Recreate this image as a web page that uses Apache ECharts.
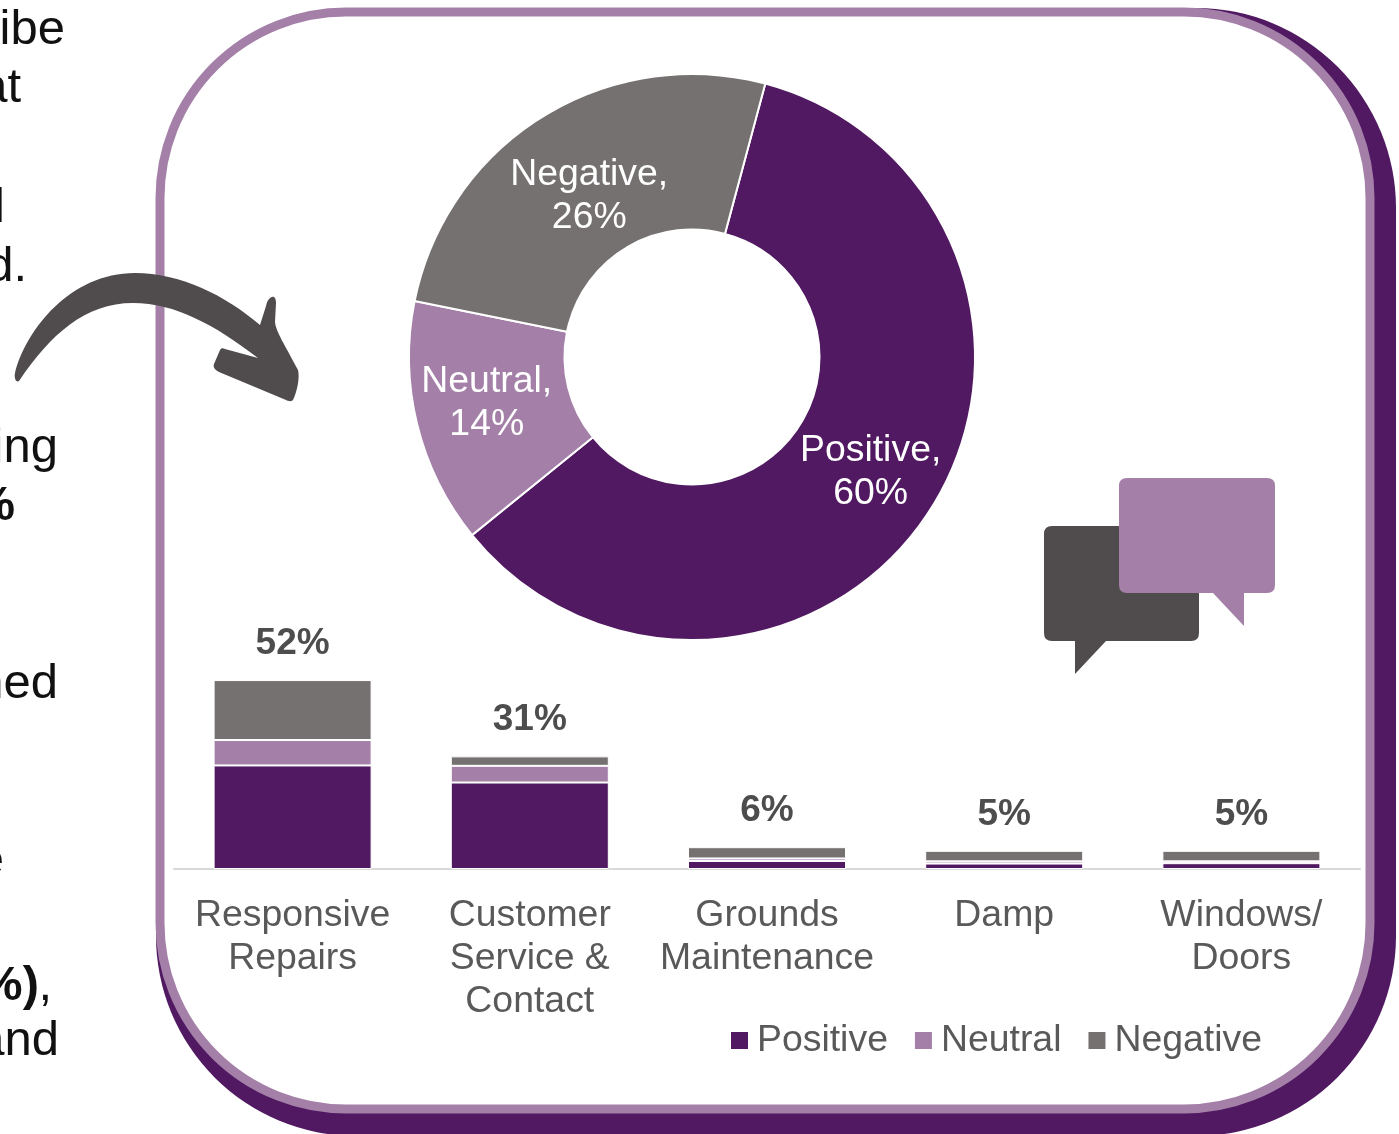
<!DOCTYPE html>
<html>
<head>
<meta charset="utf-8">
<style>
  html, body { margin: 0; padding: 0; background: #ffffff; }
  #chart { width: 1399px; height: 1134px; }
</style>
<script src="https://cdn.jsdelivr.net/npm/echarts@6/dist/echarts.min.js"></script>
</head>
<body>
<div id="chart"></div>
<script>
// Overall sentiment split
const sentimentNames = ['Positive', 'Neutral', 'Negative'];
const sentimentShares = [60, 14, 26];

// Sentiment by comment theme, in percentage points of all comments
const categories = ['Responsive\nRepairs', 'Customer\nService &\nContact', 'Grounds\nMaintenance', 'Damp', 'Windows/\nDoors'];
const positive = [28.5, 23.8, 2.2, 1.5, 1.6];
const neutral = [7.0, 4.6, 0.7, 0.6, 0.5];
const negative = [16.5, 2.6, 3.1, 2.9, 2.9];
const totals = [52, 31, 6, 5, 5];

// Body copy running in from the left of the slide
const marginWords = ['ibe', 'at', 'l', 'd.', 'ing', '%', 'ned', 'e', '%)', ',', 'and'];
const marginBold = [false, false, false, false, false, true, false, false, true, false, false];

const PURPLE = '#501961';
const LILAC = '#a480a9';
const GREY = '#767171';
const CHARCOAL = '#504c4d';
const FONT = '"Liberation Sans", Arial, sans-serif';
const LABEL_SIZE = 37.4;

const marginRight = [65, 21, 5, 27, 58, 15, 58, 4, 39, 52, 59];
const marginMiddle = [30, 88, 208, 267, 448, 506, 684, 861, 986, 986, 1041];

const marginText = marginWords.map((word, i) => ({
  type: 'text',
  z: 1,
  style: {
    x: marginRight[i],
    y: marginMiddle[i],
    text: word,
    align: 'right',
    verticalAlign: 'middle',
    fill: '#111111',
    font: (marginBold[i] ? 'bold ' : '') + '49px ' + FONT
  }
}));

const panel = [
  {
    type: 'rect', z: 0,
    shape: { x: 156, y: 8, width: 1240, height: 1128, r: 200 },
    style: { fill: PURPLE }
  },
  {
    type: 'rect', z: 0,
    shape: { x: 160, y: 12, width: 1210, height: 1097, r: 186 },
    style: { fill: '#ffffff', stroke: LILAC, lineWidth: 9 }
  }
];

// Decorative outlines, registered as shapes for the graphic component
echarts.graphic.registerShape('curvedArrow', echarts.graphic.extendPath(
  'M15 373 C26 330 70 273 135 273 C180 273 225 295 260 325 ' +
  'L266 306 C268 296 276 293 276 303 L275 322 C276 332 285 345 298 370 ' +
  'C300 378 297 392 293 400 C291 402 288 401 286 400 L219 372 C214 369 213 367 214 364 ' +
  'L220 350 C221 348 223 348 225 349 L258 358 C215 325 175 303 133 303 ' +
  'C85 303 50 335 19 381 C16 383 14 378 15 373 Z'
));
echarts.graphic.registerShape('bubbleBack', echarts.graphic.extendPath(
  'M1052 526 L1191 526 Q1199 526 1199 534 L1199 633 Q1199 641 1191 641 ' +
  'L1106 641 L1075 674 L1075 641 L1052 641 Q1044 641 1044 633 L1044 534 Q1044 526 1052 526 Z'
));
echarts.graphic.registerShape('bubbleFront', echarts.graphic.extendPath(
  'M1127 478 L1267 478 Q1275 478 1275 486 L1275 585 Q1275 593 1267 593 ' +
  'L1244 593 L1244 626 L1213 593 L1127 593 Q1119 593 1119 585 L1119 486 Q1119 478 1127 478 Z'
));

const arrow = { type: 'curvedArrow', z: 5, style: { fill: CHARCOAL } };
const bubbles = [
  { type: 'bubbleBack', z: 5, style: { fill: CHARCOAL } },
  { type: 'bubbleFront', z: 6, style: { fill: LILAC } }
];

// Nudges for the donut captions, in the order of sentimentNames
const captionDx = [4, -3, 7];
const captionDy = [2, -3, 16];

const chart = echarts.init(document.getElementById('chart'), null, { renderer: 'canvas' });

chart.setOption({
  animation: false,
  backgroundColor: '#ffffff',
  textStyle: { fontFamily: FONT },
  graphic: { elements: [...panel, ...marginText, arrow, ...bubbles] },
  legend: {
    data: sentimentNames,
    left: 731,
    top: 1022,
    icon: 'rect',
    itemWidth: 17,
    itemHeight: 17,
    itemGap: 27,
    padding: 0,
    itemStyle: { borderWidth: 0 },
    textStyle: { fontSize: LABEL_SIZE, color: '#595959', fontFamily: FONT, padding: [0, 0, 0, 4] }
  },
  grid: { left: 174, width: 1186, top: 651, height: 218, containLabel: false },
  xAxis: {
    type: 'category',
    data: categories,
    axisTick: { show: false },
    axisLine: { lineStyle: { color: '#d9d9d9', width: 2 } },
    axisLabel: {
      interval: 0,
      fontSize: LABEL_SIZE,
      lineHeight: 43,
      color: '#595959',
      fontFamily: FONT,
      margin: 25
    }
  },
  yAxis: { type: 'value', min: 0, max: 60, show: false, splitLine: { show: false } },
  series: [
    {
      name: 'Positive', type: 'bar', stack: 'themes', barWidth: 158, data: positive,
      itemStyle: { color: PURPLE, borderColor: '#ffffff', borderWidth: 1 }
    },
    {
      name: 'Neutral', type: 'bar', stack: 'themes', barWidth: 158, data: neutral,
      itemStyle: { color: LILAC, borderColor: '#ffffff', borderWidth: 1 }
    },
    {
      name: 'Negative', type: 'bar', stack: 'themes', barWidth: 158, data: negative,
      itemStyle: { color: GREY, borderColor: '#ffffff', borderWidth: 1 },
      label: {
        show: true,
        position: 'top',
        distance: 18,
        formatter: (p) => totals[p.dataIndex] + '%',
        fontSize: 37,
        fontWeight: 'bold',
        color: '#4d4d4d',
        fontFamily: FONT
      }
    },
    {
      type: 'pie',
      center: [692, 357],
      radius: [127.5, 283],
      startAngle: 75,
      clockwise: true,
      silent: true,
      legendHoverLink: false,
      data: sentimentNames.map((name, i) => ({
        name,
        value: sentimentShares[i],
        itemStyle: { color: [PURPLE, LILAC, GREY][i] }
      })),
      itemStyle: { borderColor: '#ffffff', borderWidth: 2 },
      label: {
        show: true,
        position: 'inside',
        formatter: (p) => p.name + ',\n' + p.value + '%',
        fontSize: LABEL_SIZE,
        lineHeight: 43,
        color: '#ffffff',
        fontFamily: FONT
      },
      labelLine: { show: false },
      labelLayout: (p) => ({ dx: captionDx[p.dataIndex], dy: captionDy[p.dataIndex] })
    }
  ]
});
</script>
</body>
</html>
